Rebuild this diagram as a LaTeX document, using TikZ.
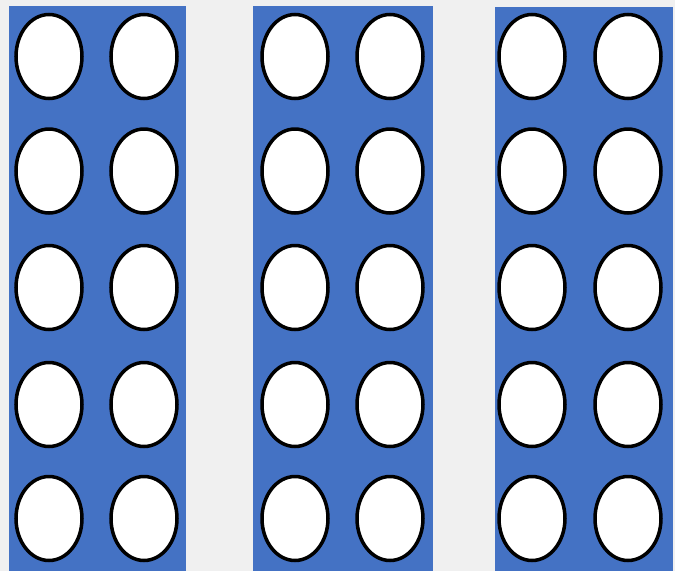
\documentclass[tikz,border=0pt]{standalone}
\usetikzlibrary{shapes.geometric}
\definecolor{panelblue}{RGB}{68,114,196}
\definecolor{bggray}{RGB}{240,240,240}
\tikzset{
  panel/.style={fill=panelblue, draw=none},
  hole/.style={ellipse, draw=black, fill=white, line width=3.5pt, minimum width=66pt, minimum height=84pt, inner sep=0pt}
}
\begin{document}
\begin{tikzpicture}[x=1pt,y=-1pt]
\fill[bggray] (0,0) rectangle (675,571);
\useasboundingbox (0,0) rectangle (675,571);
\fill[panel] (9,6) rectangle (186,571);
\fill[panel] (253,6) rectangle (433,571);
\fill[panel] (495,7) rectangle (673,571);
\foreach \p/\a/\b in {1/49/144, 2/295/390, 3/532/628}{
  \foreach \r/\y in {1/56.5, 2/171, 3/287.5, 4/404.5, 5/518.5}{
    \node[hole] (h\p-\r-1) at (\a,\y) {};
    \node[hole] (h\p-\r-2) at (\b,\y) {};
  }
}
\end{tikzpicture}
\end{document}
